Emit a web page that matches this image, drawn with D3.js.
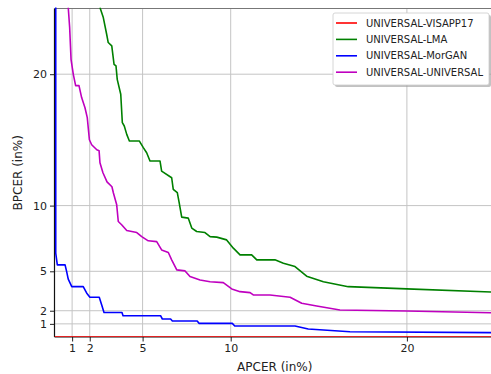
<!DOCTYPE html>
<html>
<head>
<meta charset="utf-8">
<script src="https://cdn.jsdelivr.net/npm/d3@7"></script>
<style>
  body { margin: 0; background: #fff; }
  text { font-family: "DejaVu Sans", sans-serif; fill: #222; }
</style>
</head>
<body>
<svg id="chart" width="491" height="374"></svg>
<script>
// curves: [APCER, BPCER] in %
var visapp17 = [[0, 0], [25, 0]];

var lma = [[2.58, 25.08], [2.77, 24.31], [2.96, 23.04], [3.05, 22.41], [3.25, 22.16],
  [3.38, 20.75], [3.49, 20.63], [3.56, 19.61], [3.76, 18.47], [3.85, 16.31], [3.96, 16.06],
  [4.10, 15.42], [4.25, 14.92], [4.81, 14.92], [5.04, 14.41], [5.23, 14.02], [5.42, 13.39],
  [5.99, 13.39], [6.08, 12.63], [6.65, 12.12], [6.74, 11.23], [6.97, 10.98], [7.08, 10.19],
  [7.22, 9.12], [7.59, 9.05], [7.79, 8.29], [8.07, 8.03], [8.54, 7.95], [8.83, 7.64],
  [9.21, 7.60], [9.77, 7.39], [10.15, 6.76], [10.53, 6.25], [11.19, 6.25], [11.48, 5.87],
  [12.51, 5.87], [12.99, 5.62], [13.65, 5.36], [14.31, 4.63], [15.26, 4.21], [16.67, 3.83],
  [19.99, 3.66], [24.77, 3.43], [25, 3.42]];

var morgan = [[0.07, 25.5], [0.07, 6.38], [0.16, 5.49], [0.60, 5.49], [0.69, 4.98],
  [0.78, 4.40], [0.98, 3.83], [1.63, 3.83], [1.83, 3.33], [2.01, 3.03], [2.54, 3.03],
  [2.68, 2.44], [2.81, 1.87], [3.83, 1.87], [3.89, 1.62], [6.02, 1.62], [6.12, 1.37],
  [6.59, 1.37], [6.69, 1.22], [8.10, 1.22], [8.20, 1.04], [10.09, 1.04], [10.23, 0.84],
  [13.65, 0.84], [14.40, 0.61], [16.77, 0.40], [24.72, 0.33], [25, 0.33]];

var universal = [[0.78, 25.08], [0.86, 23.55], [0.94, 21.11], [1.07, 19.97], [1.20, 19.13],
  [1.39, 19.13], [1.54, 18.22], [1.73, 17.45], [1.86, 16.69], [1.98, 15.01], [2.11, 14.63],
  [2.40, 14.25], [2.53, 14.18], [2.58, 13.26], [2.75, 12.50], [2.98, 11.81], [3.26, 11.43],
  [3.34, 10.98], [3.53, 10.06], [3.62, 8.79], [3.81, 8.54], [4.10, 8.10], [4.67, 7.95],
  [4.95, 7.64], [5.32, 7.32], [5.80, 7.26], [6.08, 6.63], [6.46, 6.43], [6.65, 5.87],
  [6.94, 5.11], [7.41, 5.03], [7.69, 4.60], [8.26, 4.34], [8.83, 4.21], [9.58, 4.14],
  [10.06, 3.66], [10.53, 3.45], [11.10, 3.38], [11.28, 3.20], [12.23, 3.20], [13.37, 3.03],
  [14.03, 2.57], [14.88, 2.36], [16.20, 2.06], [19.99, 1.98], [24.72, 1.85], [25, 1.84]];

var seriesNames = ["UNIVERSAL-VISAPP17", "UNIVERSAL-LMA", "UNIVERSAL-MorGAN", "UNIVERSAL-UNIVERSAL"];
var seriesColors = ["#ff0000", "#008000", "#0000ff", "#bf00bf"];
var tickValues = [1, 2, 5, 10, 20];

var svg = d3.select("#chart");
var plotLeft = 54.5, plotRight = 495, plotTop = 8.5, plotBottom = 337;

var x = d3.scaleLinear().domain([0, 25]).range([plotLeft, plotRight]);
var y = d3.scaleLinear().domain([0, 25]).range([plotBottom, plotTop]);

svg.append("clipPath").attr("id", "plotclip")
  .append("rect")
    .attr("x", plotLeft).attr("y", plotTop - 1)
    .attr("width", plotRight - plotLeft).attr("height", plotBottom - plotTop + 1);

// grid
svg.append("g").selectAll("line")
  .data(tickValues).enter().append("line")
    .attr("x1", function(d) { return x(d); })
    .attr("x2", function(d) { return x(d); })
    .attr("y1", plotTop).attr("y2", plotBottom)
    .attr("stroke", "#c4c4c4").attr("stroke-width", 1);
svg.append("g").selectAll("line")
  .data(tickValues).enter().append("line")
    .attr("y1", function(d) { return y(d); })
    .attr("y2", function(d) { return y(d); })
    .attr("x1", plotLeft).attr("x2", plotRight)
    .attr("stroke", "#c4c4c4").attr("stroke-width", 1);

// axes
var xAxis = svg.append("g")
  .attr("transform", "translate(0," + plotBottom + ")")
  .call(d3.axisBottom(x).tickValues(tickValues).tickSize(4.5).tickPadding(3).tickFormat(d3.format("d")));
var yAxis = svg.append("g")
  .attr("transform", "translate(" + plotLeft + ",0)")
  .call(d3.axisLeft(y).tickValues(tickValues).tickSize(4.5).tickPadding(3).tickFormat(d3.format("d")));
[xAxis, yAxis].forEach(function(a) {
  a.select(".domain").remove();
  a.selectAll(".tick line").attr("stroke", "#222");
  a.selectAll(".tick text").attr("font-size", 11).attr("font-family", "DejaVu Sans").attr("fill", "#222");
});

// spines
svg.append("line").attr("x1", plotLeft).attr("x2", plotRight).attr("y1", plotTop).attr("y2", plotTop)
  .attr("stroke", "#777").attr("stroke-width", 1.2);
svg.append("line").attr("x1", plotLeft).attr("x2", plotLeft).attr("y1", plotTop).attr("y2", plotBottom)
  .attr("stroke", "#111").attr("stroke-width", 1.2);
svg.append("line").attr("x1", plotLeft).attr("x2", plotRight).attr("y1", plotBottom).attr("y2", plotBottom)
  .attr("stroke", "#111").attr("stroke-width", 1.2);

// curves
var line = d3.line()
  .x(function(d) { return x(d[0]); })
  .y(function(d) { return y(d[1]); });

var allSeries = [visapp17, lma, morgan, universal];
svg.append("g").attr("clip-path", "url(#plotclip)")
  .selectAll("path")
  .data(allSeries).enter().append("path")
    .attr("d", line)
    .attr("fill", "none")
    .attr("stroke", function(d, i) { return seriesColors[i]; })
    .attr("stroke-width", 1.6)
    .attr("stroke-linejoin", "round");

// labels
svg.append("text").attr("x", (plotLeft + plotRight) / 2).attr("y", 371)
  .attr("text-anchor", "middle").attr("font-size", 12).text("APCER (in%)");
svg.append("text")
  .attr("transform", "translate(22," + ((plotTop + plotBottom) / 2) + ") rotate(-90)")
  .attr("text-anchor", "middle").attr("font-size", 12).text("BPCER (in%)");

// legend
var lg = svg.append("g").attr("transform", "translate(333,13)");
lg.append("rect").attr("x", 2).attr("y", 2).attr("width", 156).attr("height", 72)
  .attr("rx", 2).attr("fill", "#999").attr("opacity", 0.6);
lg.append("rect").attr("width", 156).attr("height", 72).attr("rx", 2)
  .attr("fill", "#fff").attr("stroke", "#ccc").attr("stroke-width", 0.8);
var items = lg.selectAll("g.item").data(seriesNames).enter().append("g")
  .attr("class", "item")
  .attr("transform", function(d, i) { return "translate(0," + (10 + i * 16.4) + ")"; });
items.append("line").attr("x1", 3).attr("x2", 24).attr("y1", 0).attr("y2", 0)
  .attr("stroke", function(d, i) { return seriesColors[i]; }).attr("stroke-width", 1.6);
items.append("text").attr("x", 33).attr("y", 3.6).attr("font-size", 10).text(function(d) { return d; });
</script>
</body>
</html>
